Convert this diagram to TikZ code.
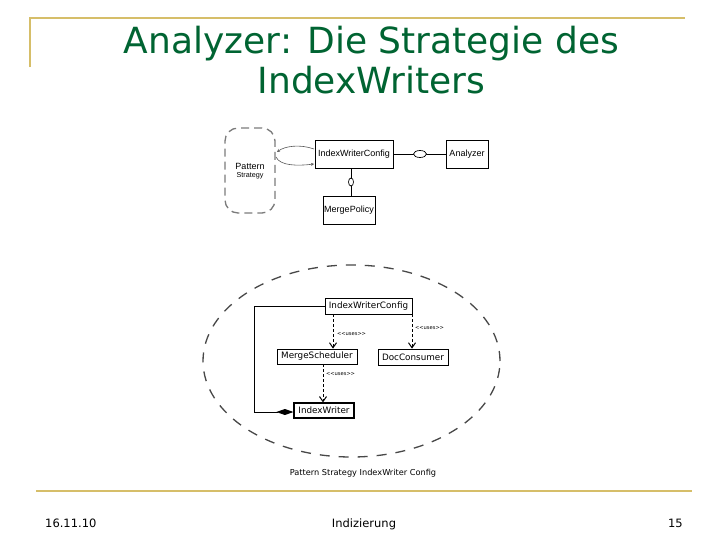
\documentclass[tikz,border=0pt]{standalone}
\usepackage{fontspec}
\setmainfont{DejaVu Sans}
\newfontfamily\arialf{Liberation Sans}
\usetikzlibrary{arrows.meta,shapes.geometric}
\definecolor{gold}{RGB}{214,190,105}
\definecolor{titlegreen}{RGB}{0,100,50}
\definecolor{dgray}{RGB}{90,90,90}
\tikzset{
  umlbox/.style={draw=black,line width=0.8pt,inner sep=0pt,fill=white},
  topbox/.style={umlbox,font=\arialf\fontsize{9}{10}\selectfont},
  lowbox/.style={umlbox,font=\fontsize{8.8}{10}\selectfont},
  usesarrow/.style={draw=black,line width=0.8pt,dash pattern=on 3pt off 2pt,-{Straight Barb[length=5pt,width=7pt,line width=1pt]}},
  useslabel/.style={font=\fontsize{5.2}{6}\selectfont,inner sep=0pt,anchor=west},
  ring/.style={ellipse,draw=black,line width=0.7pt,fill=white,inner sep=0pt},
  titletext/.style={titlegreen,font=\fontsize{36}{40}\selectfont,inner sep=0pt,anchor=base},
  foottext/.style={font=\fontsize{11.5}{13}\selectfont,inner sep=0pt},
}
\begin{document}
\begin{tikzpicture}[x=1pt,y=-1pt]
\useasboundingbox[fill=white] (0,0) rectangle (728,546);
% frame lines
\coordinate (tl) at (30,67);
\coordinate (tc) at (30,18);
\coordinate (tr) at (685,18);
\draw[gold,line width=1.2pt] (tl) -- (tc) -- (tr);
\coordinate (bl) at (36,491);
\coordinate (br) at (692,491);
\draw[gold,line width=1.3pt] (bl) -- (br);
% title
\node[titletext] (title1) at (371.5,53) {Analyzer: Die Strategie des};
\node[titletext] (title2) at (371.5,93) {IndexWriters};
% footer
\node[foottext,anchor=base west] (date) at (45,527) {16.11.10};
\node[foottext,anchor=base] (topic) at (364,527) {Indizierung};
\node[foottext,anchor=base east] (page) at (683,527) {15};

% ---------- top diagram ----------
\node[draw=dgray!80,line width=1.3pt,dash pattern=on 8pt off 5pt,rounded corners=13pt,
  minimum width=50pt,minimum height=85pt,inner sep=0pt] (ps) at (250,170.5) {};
\node[font=\arialf\fontsize{9}{10}\selectfont,inner sep=0pt] (pst1) at (250,166.5) {Pattern};
\node[font=\arialf\fontsize{7.2}{8}\selectfont,inner sep=0pt] (pst2) at (250,176) {Strategy};
\node[topbox,minimum width=78pt,minimum height=28pt] (iwc) at (354,154) {IndexWriterConfig};
\node[topbox,minimum width=42pt,minimum height=28pt] (an) at (467,154) {Analyzer};
\node[topbox,minimum width=52pt,minimum height=28pt] (mp) at (349,210) {MergePolicy};
\draw[line width=0.7pt] (iwc.east) -- (an.west);
\node[ring,minimum width=13pt,minimum height=7pt] (r1) at (420,154) {};
\coordinate (mpt) at (351,168);
\coordinate (mpb) at (351,196);
\draw[line width=0.7pt] (mpt) -- (mpb);
\node[ring,minimum width=5pt,minimum height=8pt] (r2) at (351,182) {};
\coordinate (lp1) at (277,152);
\coordinate (lp2) at (276,157);
\coordinate (in1) at (314,149);
\coordinate (in2) at (314,164);
\draw[dgray,line width=0.6pt,-{Stealth[length=3pt,width=3pt]}] (in1) .. controls (300,144) and (285,146) .. (lp1);
\draw[dgray,line width=0.6pt,-{Stealth[length=3pt,width=3pt]}] (lp2) .. controls (280,166) and (298,166) .. (in2);

% ---------- bottom diagram ----------
\node[draw=dgray!80!black,line width=1.3pt,dash pattern=on 10pt off 9pt,ellipse,
  minimum width=297pt,minimum height=192pt,inner sep=0pt] (oval) at (351.5,361) {};
\node[lowbox,minimum width=87pt,minimum height=16pt] (iwc2) at (368.5,306) {IndexWriterConfig};
\node[lowbox,minimum width=80pt,minimum height=15pt] (ms) at (317,356.5) {MergeScheduler};
\node[lowbox,minimum width=70pt,minimum height=16pt] (dc) at (413,357) {DocConsumer};
\node[lowbox,line width=1.2pt,minimum width=60pt,minimum height=15pt] (iw) at (324,410.5) {IndexWriter};
\coordinate (c1) at (254,306);
\coordinate (c2) at (254,412);
\draw[line width=0.9pt,-{Diamond[length=17pt,width=6pt,fill=black]}] (iwc2.west) -- (c1) -- (c2) -- (iw.west |- c2);
\draw[usesarrow] (iwc2.south -| 333,0) -- (ms.north -| 333,0);
\draw[usesarrow] (iwc2.south -| 412,0) -- (dc.north -| 412,0);
\draw[usesarrow] (ms.south -| 323,0) -- (iw.north -| 323,0);
\node[useslabel] (l1) at (337,334) {<\kern-0.3pt<uses>\kern-0.3pt>};
\node[useslabel] (l2) at (415,328) {<\kern-0.3pt<uses>\kern-0.3pt>};
\node[useslabel] (l3) at (326,374) {<\kern-0.3pt<uses>\kern-0.3pt>};
\node[font=\fontsize{8.2}{9}\selectfont,inner sep=0pt] (cap) at (363,473) {Pattern Strategy IndexWriter Config};
\end{tikzpicture}
\end{document}
